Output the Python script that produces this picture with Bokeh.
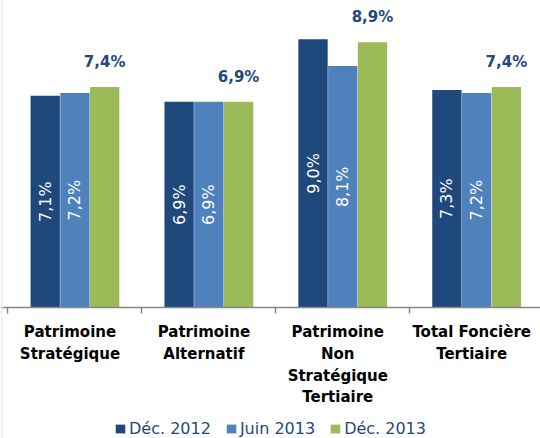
import math
from bokeh.plotting import figure
from bokeh.models import Range1d, FixedTicker, ColumnDataSource, Legend, LegendItem, Span
from bokeh.core.properties import value
from bokeh.embed import file_html
from bokeh.resources import INLINE

categories = ["Patrimoine\nStratégique", "Patrimoine\nAlternatif",
              "Patrimoine\nNon\nStratégique\nTertiaire", "Total Foncière\nTertiaire"]
series_names = ["Déc. 2012", "Juin 2013", "Déc. 2013"]
dec_2012 = [7.1, 6.9, 9.0, 7.3]
juin_2013 = [7.2, 6.9, 8.1, 7.2]
dec_2013 = [7.4, 6.9, 8.9, 7.4]
colors = ["#1F497D", "#4F81BD", "#9BBB59"]

FONT = "DejaVu Sans"
centers = [i + 0.5 for i in range(len(categories))]
label_pos = [c - 0.037 for c in centers]
offsets = [-0.222, 0.0, 0.222]
bar_w = 0.219

p = figure(width=540, height=438, output_backend="svg", toolbar_location=None,
           x_range=Range1d(-0.056, 3.977), y_range=Range1d(-4.396, 10.30),
           min_border_left=0, min_border_right=0, min_border_top=0, min_border_bottom=0)
p.outline_line_color = None
p.xgrid.visible = False
p.ygrid.visible = False
p.yaxis.visible = False
p.background_fill_color = "white"
p.border_fill_color = "white"

# faint frame edge on the left
p.add_layout(Span(location=-0.045, dimension="height", line_color="#EAF0DE", line_width=1.5))

renderers = []
for vals, off, col in zip([dec_2012, juin_2013, dec_2013], offsets, colors):
    src = ColumnDataSource(dict(
        x=[c + off for c in centers], top=vals, mid=[v / 2 for v in vals],
        lbl=[f"{v:.1f}".replace(".", ",") + "%" for v in vals]))
    r = p.vbar(x="x", top="top", width=bar_w, bottom=0, source=src,
               fill_color=col, line_color=None)
    renderers.append(r)
    if col != colors[2]:
        p.text(x="x", y="mid", text="lbl", source=src, angle=math.pi / 2,
               text_align="center", text_baseline="middle", text_color="white",
               text_font=value(FONT), text_font_size="16px")
    else:
        p.text(x="x", y="top", text="lbl", source=src, y_offset=-25,
               text_align="center", text_baseline="alphabetic", text_color="#1F497D",
               text_font=value(FONT), text_font_size="15px", text_font_style="bold")

ax = p.xaxis[0]
ax.fixed_location = 0
ax.ticker = FixedTicker(ticks=label_pos, minor_ticks=[0, 1, 2, 3, 4])
ax.major_label_overrides = {c: lab for c, lab in zip(label_pos, categories)}
ax.major_tick_out = 0
ax.major_tick_in = 0
ax.minor_tick_out = 6
ax.minor_tick_in = 0
ax.minor_tick_line_color = "#868686"
ax.minor_tick_line_width = 1.5
ax.axis_line_color = "#868686"
ax.axis_line_width = 1.5
ax.major_label_text_font = FONT
ax.major_label_text_font_size = "15px"
ax.major_label_text_font_style = "bold"
ax.major_label_text_color = "black"
ax.major_label_text_line_height = 1.2
ax.major_label_standoff = 10

legend = Legend(items=[LegendItem(label=n, renderers=[r]) for n, r in zip(series_names, renderers)],
                orientation="horizontal", location="bottom_center",
                border_line_color=None, background_fill_alpha=0,
                label_text_font=FONT, label_text_font_size="16px", label_text_color="#1F497D",
                glyph_width=12, glyph_height=11, label_standoff=3, spacing=14,
                padding=2, margin=0)
p.add_layout(legend, "center")

open("out.html", "w").write(file_html(p, INLINE))
